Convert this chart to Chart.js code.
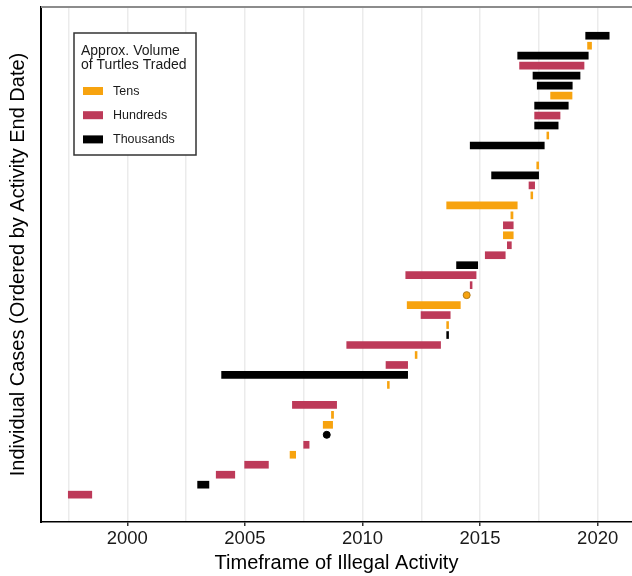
<!DOCTYPE html>
<html>
<head>
<meta charset="utf-8">
<script src="https://cdn.jsdelivr.net/npm/chart.js"></script>
<style>
  *{box-sizing:border-box;margin:0;padding:0}
  body{background:#fff}
  .wrap{position:relative;width:632px;height:576px}
</style>
</head>
<body>
<div class="wrap"><canvas id="chart"></canvas></div>
<script>
// cases ordered by activity end date, bottom row first (null = no volume recorded)
const caseStart = [1997.49, 2002.99, 2003.78, 2004.99, 2006.92, 2007.50, 2008.48, 2008.33, 2008.68, 2007.02,
  null, 2011.06, 2004.01, 2011.00, 2012.24, 2009.33, 2013.58, 2013.58, 2012.49, 2011.90,
  2014.43, 2014.58, 2011.84, 2014.00, 2015.22, 2016.16, 2015.99, 2015.99, 2016.31, 2013.58,
  2017.16, 2017.08, 2015.49, 2017.41, null, 2014.58, 2017.84, 2017.32, 2017.32, 2017.32,
  2018.00, 2017.43, 2017.25, 2016.68, 2016.60, 2019.57, 2019.49];
const caseEnd = [1998.49, 2003.47, 2004.57, 2006.00, 2007.16, 2007.73, 2008.48, 2008.73, 2008.77, 2008.90,
  null, 2011.14, 2011.92, 2011.92, 2012.32, 2013.32, 2013.66, 2013.66, 2013.73, 2014.16,
  2014.43, 2014.66, 2014.83, 2014.90, 2016.07, 2016.33, 2016.41, 2016.41, 2016.40, 2016.58,
  2017.24, 2017.32, 2017.49, 2017.49, null, 2017.73, 2017.92, 2018.32, 2018.40, 2018.75,
  2018.91, 2018.92, 2019.25, 2019.42, 2019.60, 2019.74, 2020.49];
const caseVolume = ["Hundreds", "Thousands", "Hundreds", "Hundreds", "Tens", "Hundreds", "Thousands", "Tens", "Tens", "Hundreds",
  null, "Tens", "Thousands", "Hundreds", "Tens", "Hundreds", "Thousands", "Tens", "Hundreds", "Tens",
  "Tens", "Hundreds", "Hundreds", "Thousands", "Hundreds", "Hundreds", "Tens", "Hundreds", "Tens", "Tens",
  "Tens", "Hundreds", "Thousands", "Tens", null, "Thousands", "Tens", "Thousands", "Hundreds", "Thousands",
  "Tens", "Thousands", "Thousands", "Hundreds", "Thousands", "Tens", "Thousands"];

const volumeLabels = ["Tens", "Hundreds", "Thousands"];
const volumeColors = ["#F7A30F", "#BD3A59", "#000000"];
const pointBorders = ["#B07A1A", "#8A2A40", "#000000"];
const legendTitle = ["Approx. Volume", "of Turtles Traded"];
const gridYears = [1997.5, 2000, 2002.5, 2005, 2007.5, 2010, 2012.5, 2015, 2017.5, 2020];
const xTickLabels = [2000, 2005, 2010, 2015, 2020];

const FONT = '"Liberation Sans", Arial, sans-serif';
const rank = i => i + 1;

// one floating-bar dataset per volume class, plus a point dataset for one-day cases
const datasets = [];
volumeLabels.forEach((v, k) => {
  const bars = [], pts = [];
  caseVolume.forEach((cv, i) => {
    if (cv !== v) return;
    if (caseStart[i] === caseEnd[i]) pts.push({ x: caseStart[i], y: rank(i) });
    else bars.push({ x: [caseStart[i], caseEnd[i]], y: rank(i) });
  });
  datasets.push({
    type: "bar", label: v, data: bars,
    backgroundColor: volumeColors[k], borderWidth: 0,
    barThickness: 7, grouped: false
  });
  if (pts.length) datasets.push({
    type: "scatter", label: v + " (single date)", data: pts,
    backgroundColor: volumeColors[k], borderColor: pointBorders[k],
    borderWidth: 1, pointRadius: 3.5, showLine: false
  });
});

const topRule = {
  id: "topRule",
  beforeDatasetsDraw(chart) {
    const { ctx, chartArea } = chart;
    ctx.save();
    ctx.strokeStyle = "#8c8c8c";
    ctx.lineWidth = 2;
    ctx.beginPath();
    ctx.moveTo(chartArea.left, chartArea.top);
    ctx.lineTo(chartArea.right, chartArea.top);
    ctx.stroke();
    ctx.restore();
  }
};

const legendBox = {
  id: "legendBox",
  afterDatasetsDraw(chart) {
    const { ctx, chartArea } = chart;
    const x = chartArea.left + 33, y = chartArea.top + 26, w = 122, h = 122;
    ctx.save();
    ctx.fillStyle = "#fff";
    ctx.fillRect(x, y, w, h);
    ctx.strokeStyle = "#333";
    ctx.lineWidth = 1.5;
    ctx.strokeRect(x, y, w, h);
    ctx.textBaseline = "middle";
    ctx.fillStyle = "#1a1a1a";
    ctx.font = "14px " + FONT;
    legendTitle.forEach((t, i) => ctx.fillText(t, x + 7, y + 18 + i * 14.6));
    ctx.font = "12.5px " + FONT;
    volumeLabels.forEach((label, i) => {
      const cy = y + 58 + i * 24.2;
      ctx.fillStyle = volumeColors[i];
      ctx.fillRect(x + 9, cy - 4, 20, 8);
      ctx.fillStyle = "#1a1a1a";
      ctx.fillText(label, x + 39, cy + 0.5);
    });
    ctx.restore();
  }
};

new Chart(document.getElementById("chart"), {
  type: "bar",
  data: { datasets },
  options: {
    indexAxis: "y",
    responsive: true,
    maintainAspectRatio: false,
    animation: false,
    layout: { autoPadding: false, padding: { top: 7, right: 0, left: 0, bottom: 0 } },
    plugins: { legend: { display: false }, tooltip: { enabled: false } },
    scales: {
      x: {
        type: "linear",
        position: "bottom",
        min: 1996.33,
        max: 2021.46,
        bounds: "data",
        beginAtZero: false,
        afterBuildTicks(scale) { scale.ticks = gridYears.map(v => ({ value: v })); },
        grid: {
          color: "#ebebeb",
          lineWidth: 1.5,
          tickLength: 4,
          tickWidth: 1.5,
          tickColor: c => (c.tick && xTickLabels.includes(c.tick.value)) ? "#333" : "rgba(0,0,0,0)"
        },
        border: { display: true, color: "#000", width: 1.5 },
        ticks: {
          autoSkip: false,
          maxRotation: 0,
          padding: 2,
          color: "#1a1a1a",
          font: { family: FONT, size: 18.5 },
          callback: v => xTickLabels.includes(v) ? String(v) : ""
        },
        title: {
          display: true,
          text: "Timeframe of Illegal Activity",
          color: "#000",
          font: { family: FONT, size: 20 },
          padding: { top: 0, bottom: 1 }
        },
        afterFit(scale) { scale.height = 54; }
      },
      y: {
        type: "linear",
        min: -1.74,
        max: 49.88,
        bounds: "data",
        offset: false,
        grid: { display: false },
        border: { display: true, color: "#000", width: 2 },
        ticks: { display: false },
        title: {
          display: true,
          text: "Individual Cases (Ordered by Activity End Date)",
          color: "#000",
          font: { family: FONT, size: 20 },
          padding: { top: 6, bottom: 0 }
        },
        afterFit(scale) { scale.width = 41; }
      }
    }
  },
  plugins: [topRule, legendBox]
});
</script>
</body>
</html>
